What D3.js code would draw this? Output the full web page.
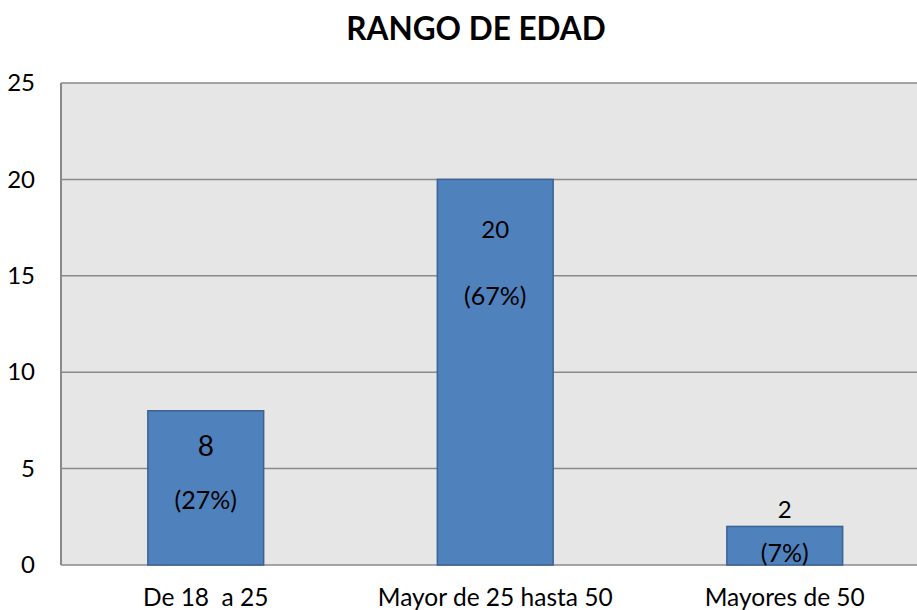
<!DOCTYPE html>
<html>
<head>
<meta charset="utf-8">
<script src="https://cdn.jsdelivr.net/npm/d3@7"></script>
<style>
  body { margin: 0; background: #fff; }
  svg { display: block; font-family: Lato, "Open Sans", sans-serif; }
  text { white-space: pre; }
</style>
</head>
<body>
<script>
// data van de grafiek
var categories = ["De 18  a 25", "Mayor de 25 hasta 50", "Mayores de 50"];
var values = [8, 20, 2];
var percents = ["(27%)", "(67%)", "(7%)"];
var yTicks = [0, 5, 10, 15, 20, 25];
var title = "RANGO DE EDAD";

// handmatig geplaatste labels (pixels t.o.v. bovenkant van de balk)
var valueLabelDy = [45, 59, -8];
var pctLabelDy = [98, 126, 36];

var W = 917, H = 610;
var margin = { top: 83, left: 61, bottom: 45 },
    plotW = 868.5,
    plotH = H - margin.top - margin.bottom;

var svg = d3.select("body").append("svg")
    .attr("width", W)
    .attr("height", H);

var x = d3.scaleBand()
    .domain(categories)
    .range([0, plotW]);

var y = d3.scaleLinear()
    .domain([0, 25])
    .range([plotH, 0]);

var g = svg.append("g")
    .attr("transform", "translate(" + margin.left + "," + margin.top + ")");

// achtergrond van het plotgebied
g.append("rect")
    .attr("width", plotW)
    .attr("height", plotH)
    .attr("fill", "#e6e6e6");

// rasterlijnen
g.append("g")
    .selectAll("line")
    .data(yTicks)
    .enter().append("line")
    .attr("x1", 0)
    .attr("x2", plotW)
    .attr("y1", function (d) { return y(d); })
    .attr("y2", function (d) { return y(d); })
    .attr("stroke", "#8a8a8a")
    .attr("stroke-width", 1.5);

// linker as lijn
g.append("line")
    .attr("x1", 0).attr("x2", 0)
    .attr("y1", 0).attr("y2", plotH)
    .attr("stroke", "#8a8a8a")
    .attr("stroke-width", 2);

// y as labels
var yAxis = g.append("g")
    .attr("transform", "translate(-26,0)")
    .call(d3.axisLeft(y).tickValues(yTicks).tickSize(0).tickPadding(0));
yAxis.select(".domain").remove();
yAxis.selectAll("text")
    .attr("font-family", "Lato, 'Open Sans', sans-serif")
    .attr("font-size", 24)
    .attr("fill", "#000");

// balken
var barW = x.bandwidth() * 0.4;
var bars = g.append("g")
    .selectAll("g")
    .data(values)
    .enter().append("g")
    .attr("transform", function (d, i) {
        return "translate(" + (x(categories[i]) + x.bandwidth() / 2) + ",0)";
    });

bars.append("rect")
    .attr("x", -barW / 2)
    .attr("y", function (d) { return y(d); })
    .attr("width", barW)
    .attr("height", function (d) { return plotH - y(d); })
    .attr("fill", "#4f81bd")
    .attr("stroke", "#3a6391")
    .attr("stroke-width", 1.5);

bars.append("text")
    .attr("text-anchor", "middle")
    .attr("font-size", function (d, i) { return i == 0 ? 28 : 24; })
    .attr("y", function (d, i) { return y(d) + valueLabelDy[i]; })
    .text(function (d) { return d; });

bars.append("text")
    .attr("text-anchor", "middle")
    .attr("font-size", 25)
    .attr("y", function (d, i) { return y(d) + pctLabelDy[i]; })
    .text(function (d, i) { return percents[i]; });

// x as labels
g.append("g")
    .selectAll("text")
    .data(categories)
    .enter().append("text")
    .attr("text-anchor", "middle")
    .attr("font-size", 24.5)
    .attr("x", function (d) { return x(d) + x.bandwidth() / 2; })
    .attr("y", plotH + 41)
    .text(function (d) { return d; });

// titel
svg.append("text")
    .attr("x", 476)
    .attr("y", 40)
    .attr("text-anchor", "middle")
    .attr("font-size", 31.5)
    .attr("font-weight", "bold")
    .text(title);
</script>
</body>
</html>
